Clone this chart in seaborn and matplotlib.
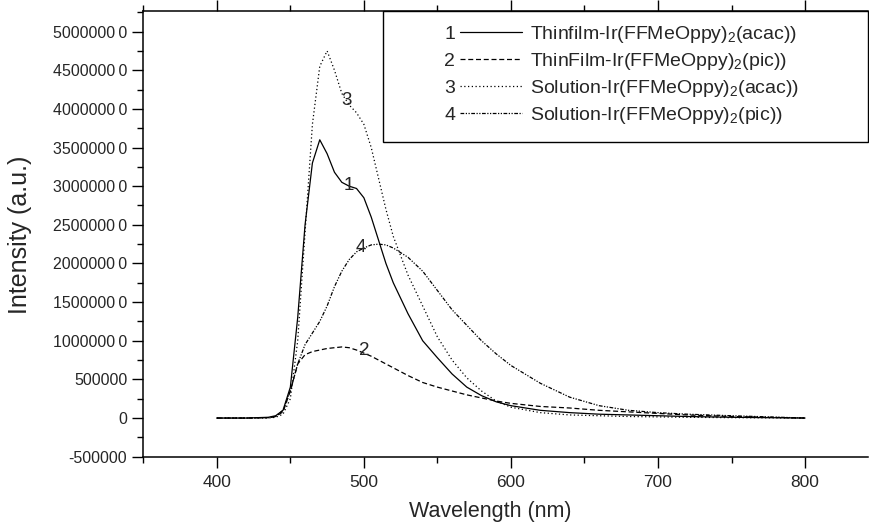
import numpy as np
import seaborn as sns
import matplotlib.pyplot as plt
from matplotlib.legend_handler import HandlerBase
from matplotlib.lines import Line2D
from matplotlib.text import Text
from matplotlib.patches import Rectangle
from matplotlib.ticker import MultipleLocator

# wavelength grid (nm)
wavelength = [400, 420, 435, 440, 445, 450, 455, 460, 465, 470, 475, 480, 485, 490,
              495, 500, 505, 510, 515, 520, 530, 540, 550, 560, 570, 580, 590, 600,
              620, 640, 660, 680, 700, 720, 750, 800]

# intensities in units of 1e6 a.u.
thinfilm_acac = [0, 0, 0.01, 0.03, 0.1, 0.4, 1.3, 2.5, 3.3, 3.6, 3.42, 3.18, 3.05, 3.0,
                 2.97, 2.85, 2.6, 2.3, 2.0, 1.75, 1.35, 1.0, 0.78, 0.57, 0.4, 0.29, 0.21, 0.16,
                 0.1, 0.07, 0.05, 0.04, 0.03, 0.02, 0.01, 0.0]
thinfilm_pic = [0, 0, 0.005, 0.02, 0.08, 0.35, 0.7, 0.82, 0.86, 0.88, 0.9, 0.91, 0.92, 0.91,
                0.88, 0.84, 0.8, 0.75, 0.7, 0.65, 0.55, 0.46, 0.4, 0.35, 0.3, 0.26, 0.22, 0.19,
                0.15, 0.13, 0.1, 0.08, 0.06, 0.04, 0.02, 0.0]
solution_acac = [0, 0, 0.0, 0.01, 0.05, 0.25, 1.0, 2.4, 3.8, 4.55, 4.75, 4.5, 4.2, 4.05,
                 3.95, 3.8, 3.5, 3.1, 2.7, 2.35, 1.85, 1.45, 1.05, 0.75, 0.52, 0.35, 0.22, 0.14,
                 0.07, 0.04, 0.03, 0.02, 0.015, 0.01, 0.005, 0.0]
solution_pic = [0, 0, 0.005, 0.02, 0.1, 0.35, 0.7, 0.95, 1.1, 1.25, 1.45, 1.7, 1.9, 2.05,
                2.15, 2.2, 2.24, 2.25, 2.24, 2.2, 2.08, 1.9, 1.65, 1.4, 1.2, 1.0, 0.83, 0.68,
                0.45, 0.27, 0.16, 0.1, 0.07, 0.05, 0.03, 0.0]

labels = ['Thinfilm-Ir(FFMeOppy)$_2$(acac))',
          'ThinFilm-Ir(FFMeOppy)$_2$(pic))',
          'Solution-Ir(FFMeOppy)$_2$(acac))',
          'Solution-Ir(FFMeOppy)$_2$(pic))']
numbers = ['1', '2', '3', '4']

ytick_vals = [-500000, 0, 500000, 1000000, 1500000, 2000000, 2500000, 3000000,
              3500000, 4000000, 4500000, 5000000]
ytick_labels = ['-500000', '0', '500000', '1000000\u20090', '1500000\u20090', '2000000\u20090',
                '2500000\u20090', '3000000\u20090', '3500000\u20090', '4000000\u20090',
                '4500000\u20090', '5000000\u20090']

sns.set_style('ticks')
plt.rcParams['font.family'] = ['Liberation Sans', 'DejaVu Sans']
plt.rcParams['mathtext.fontset'] = 'custom'
plt.rcParams['mathtext.rm'] = 'Liberation Sans'
plt.rcParams['mathtext.default'] = 'regular'

fig = plt.figure(figsize=(8.69, 5.22), dpi=100)
ax = fig.add_axes([0.1649, 0.1251, 0.8334, 0.8529])

styles = ['-', (0, (4, 2.2)), (0, (1, 2)), (0, (3, 1.2, 1, 1.2, 1, 1.2))]
series = [thinfilm_acac, thinfilm_pic, solution_acac, solution_pic]
x = np.array(wavelength)
for vals, ls, lab in zip(series, styles, labels):
    sns.lineplot(x=x, y=np.array(vals) * 1e6, color='black', linestyle=ls,
                 linewidth=0.9, label=lab, ax=ax, legend=False)

# curve numbers
ax.text(488, 4.11e6, '3', fontsize=13.5, ha='center', va='center')
ax.text(490, 3.01e6, '1', fontsize=13.5, ha='center', va='center')
ax.text(498, 2.21e6, '4', fontsize=13.5, ha='center', va='center')
ax.text(500, 0.88e6, '2', fontsize=13.5, ha='center', va='center')


class NumberedLine(HandlerBase):
    def __init__(self, num, ls):
        super().__init__()
        self.num = num
        self.ls = ls

    def create_artists(self, legend, orig_handle, xdescent, ydescent,
                       width, height, fontsize, trans):
        y = height / 2 - ydescent
        t = Text(-xdescent + 3.4, y - 1.8, self.num, ha='center', va='center',
                 fontsize=fontsize, transform=trans)
        ln = Line2D([-xdescent + 10.6, -xdescent + width], [y, y],
                    color='black', linewidth=0.9, linestyle=self.ls,
                    transform=trans)
        return [t, ln]


handles = ax.lines[:4]
ax.legend(handles, labels, loc='center', bbox_to_anchor=(0.661, 0.858),
          frameon=False, fontsize=14, handlelength=3.94, handletextpad=0.41,
          labelspacing=0.31,
          handler_map={h: NumberedLine(n, s) for h, n, s in zip(handles, numbers, styles)})
ax.add_patch(Rectangle((0.331, 0.7075), 0.669, 0.2925, transform=ax.transAxes,
                       fill=False, edgecolor='black', linewidth=1.0, clip_on=False))

ax.set_xlim(350, 842.5)
ax.set_ylim(-500000, 5.26e6)
ax.xaxis.set_major_locator(MultipleLocator(100))
ax.xaxis.set_minor_locator(MultipleLocator(50))
ax.set_yticks(ytick_vals)
ax.set_yticklabels(ytick_labels)
ax.yaxis.set_minor_locator(MultipleLocator(250000))

ax.spines['right'].set_visible(False)
for s in ['left', 'bottom', 'top']:
    ax.spines[s].set_linewidth(1.1)
    ax.spines[s].set_color('black')
ax.tick_params(which='both', direction='out', width=1.0, color='black',
               right=False)
ax.tick_params(axis='y', labelsize=11.5)
ax.tick_params(axis='x', labelsize=12.5, pad=5)
ax.tick_params(which='major', length=8)
ax.tick_params(which='minor', length=4.5)
ax.tick_params(axis='x', which='both', top=True, labeltop=False)
# faint ticks along the top edge
for tk in ax.xaxis.get_major_ticks() + ax.xaxis.get_minor_ticks():
    tk.tick2line.set_color('0.6')

ax.set_xlabel('Wavelength (nm)', fontsize=15.5)
ax.set_ylabel('Intensity (a.u.)', fontsize=18)
ax.xaxis.label.set_va('center')
ax.yaxis.label.set_va('center')
ax.xaxis.set_label_coords(0.479, -0.122)
ax.yaxis.set_label_coords(-0.170, 0.498)

fig.savefig('out.png', dpi=100)
